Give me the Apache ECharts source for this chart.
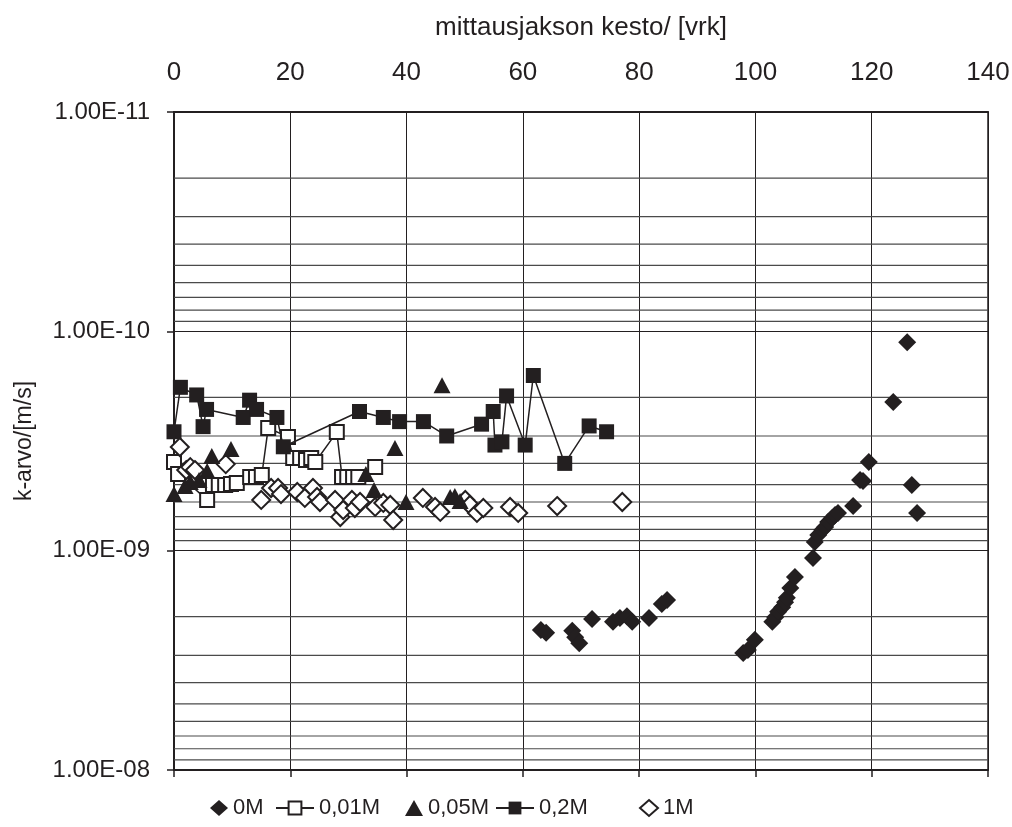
<!DOCTYPE html>
<html>
<head>
<meta charset="utf-8">
<script src="https://cdn.jsdelivr.net/npm/echarts@6/dist/echarts.min.js"></script>
<style>
html,body{margin:0;padding:0;background:#fff;}
#c{width:1012px;height:827px;}
</style>
</head>
<body>
<div id="c"></div>
<script>
// ---- data ----
const seriesNames = ['0M', '0,01M', '0,05M', '0,2M', '1M'];

const days0M = [63.1, 64.0, 68.5, 69.0, 69.7, 71.9, 75.5, 76.7, 77.9, 78.8, 81.7, 83.9, 84.8,
  97.9, 98.7, 99.9, 102.9, 103.4, 103.9, 104.6, 105.1, 105.4, 106.0, 106.8, 109.9,
  110.2, 110.8, 111.5, 112.0, 112.5, 113.2, 113.7, 114.2, 116.8, 118.0, 118.5, 119.5,
  123.7, 126.1, 126.9, 127.8];
const k0M = [2.30e-9, 2.37e-9, 2.32e-9, 2.48e-9, 2.64e-9, 2.05e-9, 2.11e-9, 2.03e-9, 1.99e-9, 2.11e-9, 2.03e-9, 1.75e-9, 1.68e-9,
  2.93e-9, 2.84e-9, 2.55e-9, 2.11e-9, 2.01e-9, 1.90e-9, 1.81e-9, 1.72e-9, 1.64e-9, 1.48e-9, 1.32e-9, 1.08e-9,
  9.13e-10, 8.48e-10, 8.05e-10, 7.80e-10, 7.40e-10, 7.10e-10, 6.88e-10, 6.73e-10, 6.26e-10, 4.76e-10, 4.81e-10, 3.94e-10,
  2.10e-10, 1.12e-10, 5.02e-10, 6.73e-10];

const days001M = [0, 0.7, 5.7, 6.7, 7.7, 8.8, 9.8, 10.8, 13.1, 14.1, 15.1, 16.2, 19.6, 20.5, 21.7, 22.7, 23.6, 24.3, 28.0, 28.9, 29.8, 30.8, 31.7, 34.6];
const k001M = [3.94e-10, 4.47e-10, 5.87e-10, 5.02e-10, 5.02e-10, 5.02e-10, 4.97e-10, 4.91e-10, 4.61e-10, 4.61e-10, 4.52e-10, 2.76e-10,
  3.03e-10, 3.78e-10, 3.78e-10, 3.86e-10, 3.78e-10, 3.94e-10, 2.88e-10, 4.61e-10, 4.61e-10, 4.61e-10, 4.61e-10, 4.16e-10];

const days005M = [0, 1.9, 2.8, 4.3, 5.7, 6.5, 9.8, 33.0, 34.4, 38.0, 39.9, 46.1, 47.5, 48.3, 49.2];
const k005M = [5.52e-10, 5.07e-10, 4.86e-10, 4.76e-10, 4.33e-10, 3.70e-10, 3.44e-10, 4.47e-10, 5.29e-10, 3.40e-10, 6.00e-10, 1.76e-10, 5.69e-10, 5.63e-10, 5.94e-10];

const days02M = [0, 1.1, 3.9, 5.0, 5.6, 11.9, 13.0, 14.2, 17.7, 18.8, 31.9, 36.0, 38.8, 42.9, 46.9, 52.9, 54.9, 55.2, 56.4, 57.2, 60.4, 61.8, 67.2, 71.4, 74.4];
const k02M = [2.87e-10, 1.80e-10, 1.95e-10, 2.72e-10, 2.27e-10, 2.47e-10, 2.06e-10, 2.27e-10, 2.47e-10, 3.36e-10, 2.32e-10, 2.47e-10, 2.58e-10,
  2.58e-10, 3.00e-10, 2.65e-10, 2.32e-10, 3.30e-10, 3.19e-10, 1.97e-10, 3.30e-10, 1.59e-10, 4.00e-10, 2.70e-10, 2.87e-10];

const days1M = [1.0, 2.1, 2.8, 3.6, 8.9, 15.0, 16.7, 17.9, 18.4, 21.2, 22.5, 23.9, 24.6, 25.1, 27.7, 28.6, 29.1, 30.6, 31.1, 32.0,
  34.6, 36.0, 37.2, 37.7, 42.8, 44.9, 45.8, 50.1, 50.9, 52.1, 53.2, 57.8, 59.2, 65.9, 77.1];
const k1M = [3.37e-10, 4.29e-10, 4.16e-10, 4.29e-10, 4.03e-10, 5.87e-10, 5.18e-10, 5.18e-10, 5.52e-10, 5.40e-10, 5.75e-10, 5.18e-10,
  5.69e-10, 6.00e-10, 5.87e-10, 7.02e-10, 6.53e-10, 5.87e-10, 6.39e-10, 6.00e-10, 6.32e-10, 6.06e-10, 6.19e-10, 7.25e-10,
  5.75e-10, 6.32e-10, 6.66e-10, 5.87e-10, 6.19e-10, 6.73e-10, 6.39e-10, 6.32e-10, 6.73e-10, 6.26e-10, 6.00e-10];

const xTitle = 'mittausjakson kesto/ [vrk]';
const yTitle = 'k-arvo/[m/s]';
const xMin = 0, xMax = 140, xStep = 20;
const decades = [-11, -10, -9];
const minorMultipliers = [2, 3, 4, 5, 6, 7, 8, 9];

// ---- build ----
const zip = (a, b) => a.map((v, i) => [v, b[i]]);
const minorVals = [];
decades.forEach(d => minorMultipliers.forEach(m => minorVals.push(m * Math.pow(10, d))));

const INK = '#231f20';
const regular = "'Liberation Sans', Arial, sans-serif";

function fmtE(v) {
  const e = Math.round(Math.log10(v));
  const s = e < 0 ? '-' : '+';
  return '1.00E' + s + String(Math.abs(e)).padStart(2, '0');
}

// minor log grid lines (2..9 x 10^n), drawn through the axes
const minorSeries = minorVals.map(v => ({
  type: 'line', silent: true, symbol: 'none', z: 1,
  lineStyle: {color: '#4a4a4a', width: 1.2},
  emphasis: {disabled: true},
  data: [[xMin, v], [xMax, v]]
}));

const chart = echarts.init(document.getElementById('c'), null, {renderer: 'canvas'});
const legendBase = {
  top: 792, itemHeight: 16,
  textStyle: {fontFamily: regular, fontSize: 22, color: INK},
  selectedMode: false
};
chart.setOption({
  backgroundColor: '#fff',
  animation: false,
  grid: {left: 174, right: 24, top: 112, bottom: 57, containLabel: false, outerBoundsMode: 'none',
    show: true, borderColor: INK, borderWidth: 1.5, backgroundColor: 'transparent'},
  legend: [
    Object.assign({}, legendBase, {data: ['0M'], left: 205, itemWidth: 18, itemGap: 10}),
    Object.assign({}, legendBase, {data: ['0,01M'], left: 270, itemWidth: 38}),
    Object.assign({}, legendBase, {data: ['0,05M'], left: 400, itemWidth: 18}),
    Object.assign({}, legendBase, {data: ['0,2M'], left: 490, itemWidth: 38}),
    Object.assign({}, legendBase, {data: ['1M'], left: 634, itemWidth: 18})
  ],
  xAxis: [{
    type: 'value', position: 'top', min: xMin, max: xMax, interval: xStep,
    name: xTitle, nameLocation: 'middle', nameGap: 71,
    nameTextStyle: {fontFamily: regular, fontSize: 26, color: INK},
    axisLine: {show: true, lineStyle: {color: INK, width: 2}},
    axisTick: {show: false},
    axisLabel: {fontFamily: regular, fontSize: 26, color: INK, margin: 26},
    splitLine: {show: true, lineStyle: {color: INK, width: 1}}
  }, {
    type: 'value', position: 'bottom', min: xMin, max: xMax, interval: xStep,
    axisLine: {show: true, onZero: false, lineStyle: {color: INK, width: 2}},
    axisTick: {show: true, length: 7, lineStyle: {color: INK, width: 1.5}},
    axisLabel: {show: false},
    splitLine: {show: false}
  }],
  yAxis: {
    type: 'log', logBase: 10, min: 1e-11, max: 1e-8, interval: 1, inverse: true,
    name: yTitle, nameLocation: 'middle', nameGap: 138,
    nameTextStyle: {fontFamily: regular, fontSize: 23, color: INK},
    axisLine: {show: true, lineStyle: {color: INK, width: 2}},
    axisTick: {show: true, length: 7, lineStyle: {color: INK, width: 1.5}},
    axisLabel: {fontFamily: regular, fontSize: 24, color: INK, margin: 24, formatter: fmtE},
    splitLine: {show: true, lineStyle: {color: INK, width: 1}}
  },
  series: minorSeries.concat([{
    name: '0M', type: 'scatter', symbol: 'diamond', symbolSize: 18, z: 3,
    itemStyle: {color: INK, opacity: 1},
    data: zip(days0M, k0M)
  }, {
    name: '0,01M', type: 'line', symbol: 'emptyRect', symbolSize: 14, showAllSymbol: true, z: 4,
    itemStyle: {color: INK, borderWidth: 1.5, opacity: 1},
    lineStyle: {color: INK, width: 1.5},
    data: zip(days001M, k001M)
  }, {
    name: '0,05M', type: 'scatter', symbol: 'triangle', symbolSize: [17, 16], z: 5,
    itemStyle: {color: INK, opacity: 1},
    data: zip(days005M, k005M)
  }, {
    name: '0,2M', type: 'line', symbol: 'rect', symbolSize: 15, showAllSymbol: true, z: 6,
    itemStyle: {color: INK, opacity: 1},
    lineStyle: {color: INK, width: 1.5},
    data: zip(days02M, k02M)
  }, {
    name: '1M', type: 'scatter', symbol: 'emptyDiamond', symbolSize: 18, z: 4,
    itemStyle: {color: INK, borderWidth: 1.5, opacity: 1},
    data: zip(days1M, k1M)
  }])
});
</script>
</body>
</html>
